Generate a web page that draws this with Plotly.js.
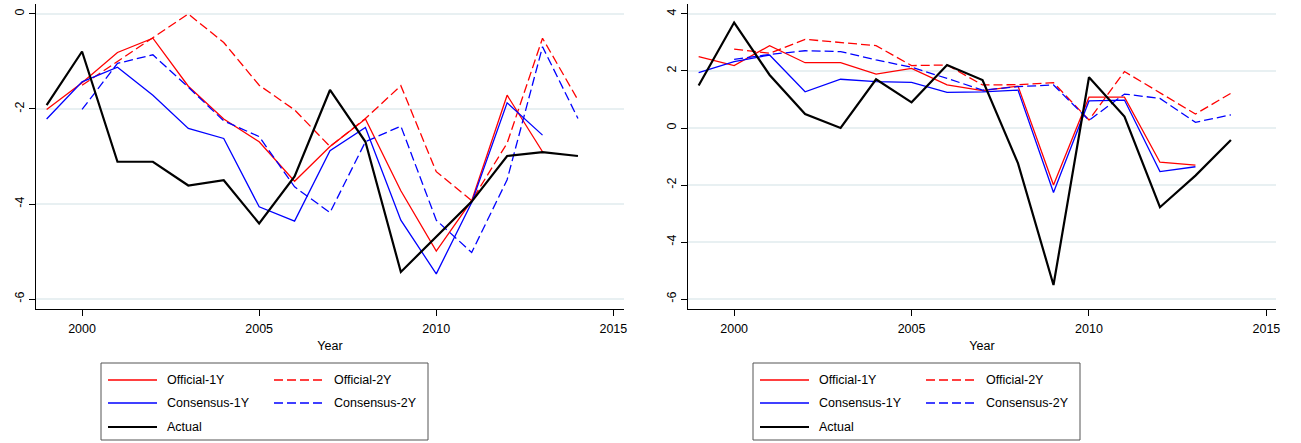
<!DOCTYPE html>
<html>
<head>
<meta charset="utf-8">
<script src="https://cdn.plot.ly/plotly-3.0.1.min.js"></script>
<style>html,body{margin:0;padding:0;background:#fff;}#chart{width:1301px;height:443px;}</style>
</head>
<body>
<div id="chart"></div>
<script>
// ---------- data ----------
const years = [1999,2000,2001,2002,2003,2004,2005,2006,2007,2008,2009,2010,2011,2012,2013,2014];
const years1Y = [1999,2000,2001,2002,2003,2004,2005,2006,2007,2008,2009,2010,2011,2012,2013];
const years2Y = [2000,2001,2002,2003,2004,2005,2006,2007,2008,2009,2010,2011,2012,2013,2014];

// Left panel
const leftOfficial1Y  = [-2.01,-1.45,-0.81,-0.51,-1.52,-2.21,-2.69,-3.52,-2.79,-2.21,-3.72,-4.99,-3.93,-1.71,-2.90];
const leftOfficial2Y  = [-1.50,-1.00,-0.50,0.00,-0.60,-1.50,-2.02,-2.79,-2.20,-1.51,-3.32,-3.93,-2.72,-0.51,-1.81];
const leftConsensus1Y = [-2.21,-1.43,-1.12,-1.71,-2.41,-2.62,-4.06,-4.36,-2.88,-2.39,-4.34,-5.47,-3.97,-1.87,-2.55];
const leftConsensus2Y = [-2.01,-1.04,-0.86,-1.54,-2.25,-2.58,-3.64,-4.18,-2.69,-2.36,-4.34,-5.02,-3.49,-0.69,-2.20];
const leftActual      = [-1.92,-0.79,-3.11,-3.11,-3.61,-3.50,-4.41,-3.42,-1.60,-2.69,-5.43,-4.68,-3.95,-2.99,-2.91,-2.99];

// Right panel
const rightOfficial1Y  = [2.50,2.19,2.89,2.29,2.29,1.89,2.09,1.51,1.31,1.47,-2.00,1.08,1.08,-1.20,-1.30];
const rightOfficial2Y  = [2.77,2.62,3.11,3.00,2.89,2.19,2.21,1.51,1.52,1.59,0.28,1.98,1.24,0.49,1.22];
const rightConsensus1Y = [1.94,2.33,2.56,1.27,1.71,1.63,1.60,1.25,1.27,1.33,-2.26,0.95,0.98,-1.53,-1.36];
const rightConsensus2Y = [2.41,2.58,2.71,2.68,2.39,2.13,1.74,1.33,1.45,1.51,0.27,1.19,1.04,0.20,0.46];
const rightActual      = [1.49,3.70,1.86,0.49,0.00,1.71,0.90,2.21,1.68,-1.24,-5.51,1.78,0.40,-2.78,-1.67,-0.42];

const seriesNames = ['Official-1Y','Official-2Y','Consensus-1Y','Consensus-2Y','Actual'];
const xTicks = [2000,2005,2010,2015];
const leftYTicks = [-6,-4,-2,0];
const rightYTicks = [-6,-4,-2,0,2,4];
const xTitle = 'Year';

// ---------- styles ----------
const W = 1301, H = 443;
const FONT = 'Liberation Sans, Arial, Helvetica, sans-serif';
const styles = [
  {color:'#ff0000', width:1.3, dash:'solid'},
  {color:'#ff0000', width:1.3, dash:'9px,4px'},
  {color:'#0000ff', width:1.3, dash:'solid'},
  {color:'#0000ff', width:1.3, dash:'9px,4px'},
  {color:'#000000', width:2.2, dash:'solid'}
];

function mk(x, y, i, xa, ya){
  return {x:x, y:y, type:'scatter', mode:'lines', name:seriesNames[i],
    xaxis:xa, yaxis:ya, showlegend:false, hoverinfo:'skip',
    line:{color:styles[i].color, width:styles[i].width, dash:styles[i].dash}};
}

const traces = [
  mk(years1Y, leftOfficial1Y, 0, 'x', 'y'),
  mk(years2Y, leftOfficial2Y, 1, 'x', 'y'),
  mk(years1Y, leftConsensus1Y, 2, 'x', 'y'),
  mk(years2Y, leftConsensus2Y, 3, 'x', 'y'),
  mk(years, leftActual, 4, 'x', 'y'),
  mk(years1Y, rightOfficial1Y, 0, 'x2', 'y2'),
  mk(years2Y, rightOfficial2Y, 1, 'x2', 'y2'),
  mk(years1Y, rightConsensus1Y, 2, 'x2', 'y2'),
  mk(years2Y, rightConsensus2Y, 3, 'x2', 'y2'),
  mk(years, rightActual, 4, 'x2', 'y2')
];

const px = v => v / W;
const py = v => 1 - v / H;

function xaxisDef(domain, range, anchor){
  return {domain:domain, range:range, anchor:anchor, tickvals:xTicks, ticktext:xTicks.map(String),
    showline:true, linecolor:'#000', linewidth:1, ticks:'outside', ticklen:6, tickcolor:'#000',
    ticklabelstandoff:2,
    showgrid:false, zeroline:false, tickfont:{family:FONT, size:12.5, color:'#000'},
    title:{text:xTitle, font:{family:FONT, size:12.5, color:'#000'}, standoff:6}};
}
function yaxisDef(domain, range, ticks, anchor){
  return {domain:domain, range:range, anchor:anchor, tickvals:ticks, ticktext:ticks.map(String),
    showline:true, linecolor:'#000', linewidth:1, ticks:'outside', ticklen:6, tickcolor:'#000',
    tickangle:-90, showgrid:true, gridcolor:'#e8f0f2', gridwidth:1.2, zeroline:false,
    tickfont:{family:FONT, size:12.5, color:'#000'}};
}

const yDom = [py(309), py(4)];

const shapes = [];
const annotations = [];
function legendAt(offset){
  shapes.push({type:'rect', xref:'paper', yref:'paper', x0:px(101+offset), x1:px(428+offset),
    y0:py(440), y1:py(363), line:{color:'#555', width:1}, fillcolor:'rgba(0,0,0,0)'});
  const pos = [
    {lx:108, tx:165, y:380},
    {lx:274, tx:332, y:380},
    {lx:108, tx:165, y:403},
    {lx:274, tx:332, y:403},
    {lx:108, tx:165, y:427}
  ];
  pos.forEach((p,i)=>{
    shapes.push({type:'line', xref:'paper', yref:'paper', x0:px(p.lx+offset), x1:px(p.lx+49+offset),
      y0:py(p.y), y1:py(p.y), line:{color:styles[i].color, width:styles[i].width, dash:styles[i].dash}});
    annotations.push({xref:'paper', yref:'paper', x:px(p.tx+offset), y:py(p.y), xanchor:'left', yanchor:'middle',
      text:seriesNames[i], showarrow:false, font:{family:FONT, size:12.5, color:'#000'}});
  });
}
legendAt(0);
legendAt(652);

const layout = {
  width:W, height:H, margin:{l:0, r:0, t:0, b:0, pad:0},
  paper_bgcolor:'#fff', plot_bgcolor:'#fff', showlegend:false,
  xaxis: xaxisDef([px(36), px(624)], [1998.7, 2015.3], 'y'),
  yaxis: yaxisDef(yDom, [-6.21, 0.21], leftYTicks, 'x'),
  xaxis2: xaxisDef([px(688), px(1276)], [1998.7, 2015.27], 'y2'),
  yaxis2: yaxisDef(yDom, [-6.35, 4.35], rightYTicks, 'x2'),
  shapes: shapes, annotations: annotations
};

Plotly.newPlot('chart', traces, layout, {displayModeBar:false, staticPlot:true});
</script>
</body>
</html>
